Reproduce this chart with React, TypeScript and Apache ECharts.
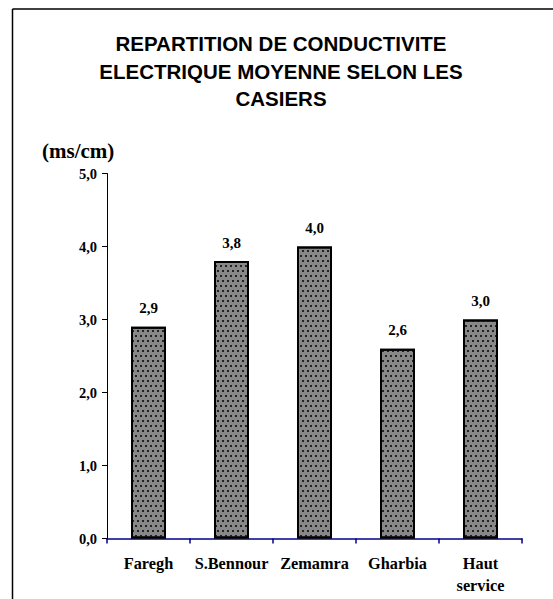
import React, { useEffect, useRef } from "react";
import * as echarts from "echarts";

const categories = ["Faregh", "S.Bennour", "Zemamra", "Gharbia", "Haut\nservice"];
const values = [2.9, 3.8, 4.0, 2.6, 3.0];
const yTicks = [0, 1, 2, 3, 4, 5];

const fmt = (v: number) => v.toFixed(1).replace(".", ",");

export default function App() {
  const ref = useRef<HTMLDivElement>(null);
  useEffect(() => {
    if (!ref.current) return;
    const chart = echarts.init(ref.current, null, { renderer: "svg" });
    chart.setOption({
      animation: false,
      backgroundColor: "#fff",
      title: {
        text: "REPARTITION DE CONDUCTIVITE\nELECTRIQUE MOYENNE SELON LES\nCASIERS",
        left: 276,
        top: 25,
        padding: 5,
        textAlign: "center",
        textStyle: {
          fontFamily: "Liberation Sans",
          fontWeight: "bold",
          fontSize: 20.5,
          lineHeight: 27.5,
          color: "#000",
        },
      },
      graphic: [
        { type: "line", shape: { x1: 12.5, y1: 9, x2: 553, y2: 9 }, style: { stroke: "#000", lineWidth: 1.5 } },
        { type: "line", shape: { x1: 12.5, y1: 9, x2: 12.5, y2: 599 }, style: { stroke: "#000", lineWidth: 1.5 } },
        {
          type: "text",
          left: 42,
          top: 140,
          style: {
            text: "(ms/cm)",
            fontFamily: "Liberation Serif",
            fontWeight: "bold",
            fontSize: 21,
            fill: "#000",
          },
        },
      ],
      grid: { left: 107, right: 31, top: 173.5, bottom: 60.5, containLabel: false },
      xAxis: {
        type: "category",
        data: categories,
        axisLine: { lineStyle: { color: "#00008b", width: 1.5 } },
        axisTick: { show: true, length: 5, lineStyle: { color: "#00008b", width: 1.5 } },
        axisLabel: {
          interval: 0,
          margin: 14,
          fontFamily: "Liberation Serif",
          fontWeight: "bold",
          fontSize: 16.3,
          lineHeight: 22,
          color: "#000",
        },
      },
      yAxis: {
        type: "value",
        min: 0,
        max: yTicks[yTicks.length - 1],
        interval: 1,
        splitLine: { show: false },
        axisLine: { show: true, lineStyle: { color: "#000", width: 1 } },
        axisTick: { show: true, length: 5, lineStyle: { color: "#000" } },
        axisLabel: {
          margin: 10,
          formatter: (v: number) => fmt(v),
          fontFamily: "Liberation Serif",
          fontWeight: "bold",
          fontSize: 14.5,
          color: "#000",
        },
      },
      series: [
        {
          type: "bar",
          data: values,
          barWidth: 35,
          itemStyle: {
            color: "#888888",
            borderColor: "#000",
            borderWidth: 2,
            decal: {
              symbol: "rect",
              symbolSize: 1,
              color: "#222",
              dashArrayX: [[1.2, 2.8], [0, 2, 1.2, 0.8]],
              dashArrayY: [1.2, 2.8],
              rotation: 0,
            },
          },
          label: {
            show: true,
            position: "top",
            distance: 11,
            formatter: (p: any) => fmt(p.value),
            fontFamily: "Liberation Serif",
            fontWeight: "bold",
            fontSize: 15,
            color: "#000",
          },
        },
      ],
    });
    return () => chart.dispose();
  }, []);
  return <div ref={ref} style={{ width: 553, height: 599, position: "absolute", left: 0, top: 0 }} />;
}
